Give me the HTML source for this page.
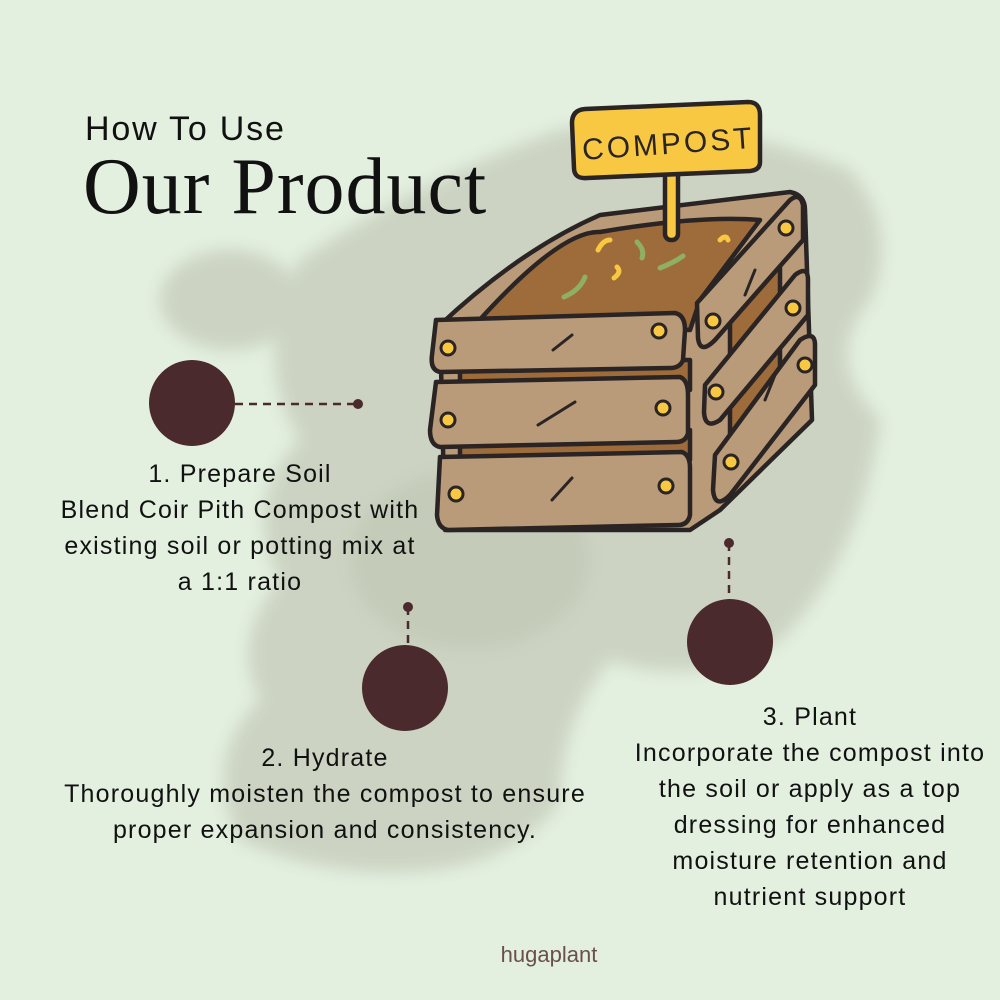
<!DOCTYPE html>
<html><head><meta charset="utf-8"><style>
body{margin:0;width:1000px;height:1000px;background:#e3efdf;position:relative;overflow:hidden;font-family:"Liberation Sans",sans-serif;color:#111}
.t{position:absolute;text-align:center;font-size:25px;line-height:36px;letter-spacing:1.2px}
</style></head><body>
<svg width="1000" height="1000" style="position:absolute;left:0;top:0">
<defs><filter id="b"><feGaussianBlur stdDeviation="8"/></filter></defs>
<g filter="url(#b)" fill="#cbd2c1" opacity="0.95">
<path d="M300 260 Q420 180 560 130 Q700 110 850 170 Q900 230 870 300 Q820 360 880 420 Q860 560 780 640 Q700 690 610 660 Q560 720 560 800 Q520 860 430 870 Q330 880 240 840 Q200 760 260 700 Q230 640 280 580 Q240 500 300 440 Q250 360 300 260Z"/>
<ellipse cx="230" cy="300" rx="70" ry="50"/>
<ellipse cx="470" cy="560" rx="120" ry="90" fill="#c3cab8"/>
</g>
<line x1="235" y1="404" x2="358" y2="404" stroke="#4a2a2c" stroke-width="2.5" stroke-dasharray="8 6"/>
<circle cx="358" cy="404" r="5" fill="#4a2a2c"/>
<line x1="408" y1="607" x2="408" y2="645" stroke="#4a2a2c" stroke-width="2.5" stroke-dasharray="8 6"/>
<circle cx="408" cy="607" r="5" fill="#4a2a2c"/>
<line x1="729" y1="543" x2="729" y2="600" stroke="#4a2a2c" stroke-width="2.5" stroke-dasharray="8 6"/>
<circle cx="729" cy="543" r="5" fill="#4a2a2c"/>
<circle cx="192" cy="403" r="43" fill="#4a2a2c"/>
<circle cx="405" cy="688" r="43" fill="#4a2a2c"/>
<circle cx="730" cy="642" r="43" fill="#4a2a2c"/>
<g stroke="#2a2424" stroke-width="4.5" stroke-linejoin="round" stroke-linecap="round">
<path d="M440 325 Q520 250 600 215 L790 192 Q805 195 805 210 L812 420 L720 510 L690 530 L445 530Z" fill="#b99a79"/>
<path d="M475 325 Q560 230 600 232 Q700 215 760 220 L700 300 L690 330 Z" fill="#9e6c3a"/>
<rect x="460" y="360" width="230" height="30" fill="#9e6c3a"/>
<rect x="460" y="430" width="230" height="30" fill="#9e6c3a"/>
<polygon points="730,300 780,250 780,420 730,470" fill="#9e6c3a"/>
<rect x="665" y="170" width="13" height="70" rx="6" fill="#f9c842"/>
<path d="M572 123 Q572 110 585 109 L748 102 Q760 102 760 115 L760 162 Q760 170 750 171 L587 178 Q574 179 574 168Z" fill="#f9c842"/>
<path d="M436 320 L675 313 Q685 315 685 330 L683 360 Q680 368 670 368 L440 372 Q430 370 432 355Z" fill="#b99a79"/>
<path d="M436 382 L680 377 Q688 380 688 395 L688 433 Q686 442 676 442 L440 447 Q430 445 430 430Z" fill="#b99a79"/>
<path d="M440 457 L682 452 Q690 455 690 468 L690 515 Q688 525 678 525 L448 530 Q438 528 437 515Z" fill="#b99a79"/>
<path d="M697 303 L790 200 Q800 192 803 205 L803 240 L715 340 Q700 355 698 338Z" fill="#b99a79"/>
<path d="M705 385 L795 275 Q808 265 808 280 L808 315 L720 420 Q705 430 704 412Z" fill="#b99a79"/>
<path d="M715 455 L800 340 Q815 330 815 345 L815 385 L730 495 Q715 510 713 490Z" fill="#b99a79"/>
<g fill="none" stroke-width="3"><path d="M553 350 L572 335"/><path d="M538 425 L575 402"/><path d="M552 500 L572 478"/><path d="M745 295 L755 270"/><path d="M765 400 L775 375"/></g>
</g>
<g fill="#f9c842" stroke="#2a2424" stroke-width="3">
<circle cx="448" cy="348" r="7"/><circle cx="659" cy="331" r="7"/><circle cx="448" cy="420" r="7"/><circle cx="663" cy="408" r="7"/>
<circle cx="456" cy="494" r="7"/><circle cx="666" cy="486" r="7"/><circle cx="713" cy="321" r="7"/><circle cx="786" cy="228" r="7"/>
<circle cx="716" cy="392" r="7"/><circle cx="793" cy="308" r="7"/><circle cx="731" cy="462" r="7"/><circle cx="805" cy="365" r="7"/>
</g>
<g fill="none" stroke="#8fb060" stroke-width="5" stroke-linecap="round"><path d="M564 297 Q580 290 585 277"/><path d="M660 268 Q675 262 683 256"/><path d="M637 242 Q645 250 642 258"/></g>
<g fill="none" stroke="#f9c842" stroke-width="5" stroke-linecap="round"><path d="M598 250 Q603 240 610 240"/><path d="M617 267 Q622 272 614 278"/><path d="M720 240 Q726 234 728 240"/></g>
<text x="668" y="154" font-family="Liberation Sans Narrow,Liberation Sans,sans-serif" font-size="30" text-anchor="middle" fill="#2a2424" transform="rotate(-4 666 140)" letter-spacing="3">COMPOST</text>
</svg>
<div style="position:absolute;left:85px;top:110px;font-size:34px;letter-spacing:1.8px">How To Use</div>
<div style="position:absolute;left:83px;top:142px;font-family:'Liberation Serif',serif;font-size:80px;letter-spacing:1px">Our Product</div>
<div class="t" style="left:0px;width:480px;top:456px">1. Prepare Soil<br>Blend Coir Pith Compost with<br>existing soil or potting mix at<br>a 1:1 ratio</div>
<div class="t" style="left:0px;width:650px;top:740px">2. Hydrate<br>Thoroughly moisten the compost to ensure<br>proper expansion and consistency.</div>
<div class="t" style="left:590px;width:440px;top:699px">3. Plant<br>Incorporate the compost into<br>the soil or apply as a top<br>dressing for enhanced<br>moisture retention and<br>nutrient support</div>
<div style="position:absolute;left:449px;width:200px;text-align:center;top:942px;font-size:22px;color:#6b4f4b">hugaplant</div>
</body></html>
